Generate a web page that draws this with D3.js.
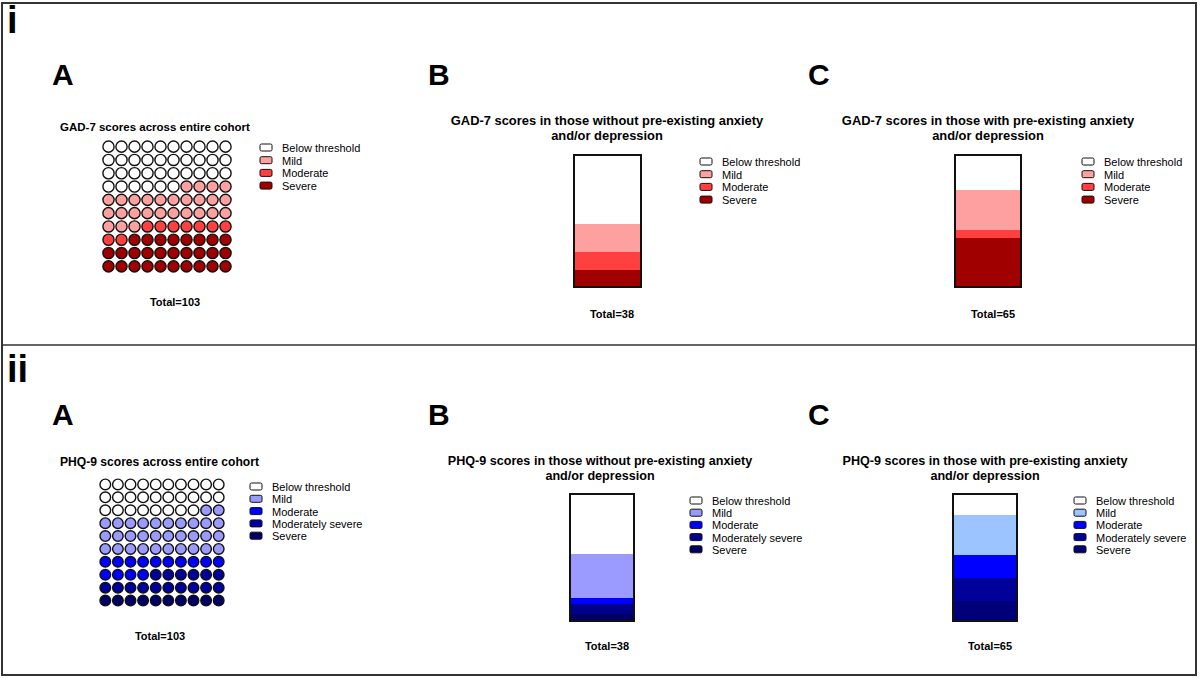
<!DOCTYPE html>
<html>
<head>
<meta charset="utf-8">
<script src="https://cdn.jsdelivr.net/npm/d3@7"></script>
<style>
  body { margin: 0; background: #fff; }
  text { font-family: "Liberation Sans", Arial, sans-serif; }
</style>
</head>
<body>
<div id="chart"></div>
<script>
// categories
var gadCats = ["Below threshold", "Mild", "Moderate", "Severe"];
var phqCats = ["Below threshold", "Mild", "Moderate", "Moderately severe", "Severe"];

// waffle = percent of whole cohort (100 dots), bars = counts
var gadWaffle = [36, 27, 9, 28];
var gadNoPre = [20, 8, 5, 5];
var gadPre = [17, 20, 4, 24];
var phqWaffle = [28, 32, 14, 16, 10];
var phqNoPre = [18, 13, 2, 3, 2];
var phqPre = [11, 20, 12, 12, 10];
var totals = [103, 38, 65];

var gadColors = ["#ffffff", "#ffa0a0", "#ff4040", "#a00000"];
var phqColorsA = ["#ffffff", "#9a9aff", "#0000ff", "#00009c", "#000066"];
var phqColorsB = ["#ffffff", "#9a9aff", "#0000ff", "#00008c", "#000060"];
var phqColorsC = ["#ffffff", "#9cc4ff", "#0000ff", "#00009a", "#000078"];

var width = 1200, height = 678;

var svg = d3.select("#chart")
    .append("svg")
    .attr("width", width)
    .attr("height", height);

// frame
svg.append("rect")
    .attr("x", 2).attr("y", 3)
    .attr("width", 1194).attr("height", 672)
    .attr("fill", "none")
    .attr("stroke", "#333")
    .attr("stroke-width", 2);
svg.append("line")
    .attr("x1", 2).attr("x2", 1196)
    .attr("y1", 345).attr("y2", 345)
    .attr("stroke", "#333")
    .attr("stroke-width", 1.5);

svg.append("text").attr("x", 7).attr("y", 33)
    .attr("font-size", 38).attr("font-weight", "bold").text("i");
svg.append("text").attr("x", 7).attr("y", 382)
    .attr("font-size", 38).attr("font-weight", "bold").text("ii");

function letter(x, y, t) {
    svg.append("text").attr("x", x).attr("y", y)
        .attr("font-size", 30).attr("font-weight", "bold").text(t);
}

function title(x, y, lines, anchor, size) {
    var t = svg.append("text")
        .attr("x", x).attr("y", y)
        .attr("font-size", size)
        .attr("font-weight", "bold")
        .attr("text-anchor", anchor);
    lines.forEach((l, i) => {
        t.append("tspan").attr("x", x).attr("dy", i ? 14.5 : 0).text(l);
    });
}

function totalLabel(x, y, n) {
    svg.append("text").attr("x", x).attr("y", y)
        .attr("font-size", 11)
        .attr("font-weight", "bold")
        .attr("text-anchor", "middle")
        .text("Total=" + n);
}

function legend(x, y, step, cats, colors) {
    var g = svg.append("g").attr("transform", `translate(${x},${y})`);
    var item = g.selectAll("g")
        .data(cats)
        .join("g")
        .attr("transform", (d, i) => `translate(0,${i * step})`);
    item.append("rect")
        .attr("x", 0).attr("y", -4)
        .attr("width", 12).attr("height", 7)
        .attr("rx", 1.5)
        .attr("fill", (d, i) => colors[i])
        .attr("stroke", "#111")
        .attr("stroke-width", 1);
    item.append("text")
        .attr("x", 22).attr("y", 4)
        .attr("font-size", 11)
        .text(d => d);
}

function waffle(x0, x1, y0, y1, r, counts, colors) {
    var cells = [];
    counts.forEach((c, k) => { for (var j = 0; j < c; j++) cells.push(k); });
    var xs = d3.scaleBand().domain(d3.range(10)).range([x0, x1]);
    var ys = d3.scaleBand().domain(d3.range(10)).range([y0, y1]);
    svg.append("g")
        .selectAll("circle")
        .data(cells)
        .join("circle")
        .attr("cx", (d, i) => xs(i % 10) + xs.bandwidth() / 2)
        .attr("cy", (d, i) => ys(Math.floor(i / 10)) + ys.bandwidth() / 2)
        .attr("r", r)
        .attr("fill", d => colors[d])
        .attr("stroke", "#111")
        .attr("stroke-width", 1.4);
}

function stackBar(x0, x1, y0, y1, counts, colors) {
    var total = d3.sum(counts);
    var y = d3.scaleLinear().domain([0, total]).range([y1, y0]);
    // stack from the bottom: last category at the bottom
    var segs = [];
    var acc = 0;
    for (var k = counts.length - 1; k >= 0; k--) {
        segs.push({ k: k, lo: acc, hi: acc + counts[k] });
        acc += counts[k];
    }
    var g = svg.append("g").attr("shape-rendering", "crispEdges");
    g.selectAll("rect")
        .data(segs)
        .join("rect")
        .attr("x", x0)
        .attr("width", x1 - x0)
        .attr("y", d => y(d.hi))
        .attr("height", d => y(d.lo) - y(d.hi))
        .attr("fill", d => colors[d.k]);
    g.append("rect")
        .attr("x", x0).attr("y", y0)
        .attr("width", x1 - x0).attr("height", y1 - y0)
        .attr("fill", "none")
        .attr("stroke", "#111")
        .attr("stroke-width", 1.6);
}

// ---- i: GAD-7
letter(52, 85, "A");
letter(428, 85, "B");
letter(808, 85, "C");
title(60, 131, ["GAD-7 scores across entire cohort"], "start", 11.5);
waffle(102, 232, 140, 273, 5.6, gadWaffle, gadColors);
legend(260, 148, 12.7, gadCats, gadColors);
totalLabel(175, 306, totals[0]);

title(607, 125, ["GAD-7 scores in those without pre-existing anxiety", "and/or depression"], "middle", 12.9);
stackBar(574, 641, 155, 287, gadNoPre, gadColors);
legend(700, 162, 12.7, gadCats, gadColors);
totalLabel(612, 318, totals[1]);

title(988, 125, ["GAD-7 scores in those with pre-existing anxiety", "and/or depression"], "middle", 12.9);
stackBar(955, 1021, 155, 287, gadPre, gadColors);
legend(1082, 162, 12.7, gadCats, gadColors);
totalLabel(993, 318, totals[2]);

// ---- ii: PHQ-9
letter(52, 425, "A");
letter(428, 425, "B");
letter(808, 425, "C");
title(60, 466, ["PHQ-9 scores across entire cohort"], "start", 12.1);
waffle(99, 225, 478, 607, 5.3, phqWaffle, phqColorsA);
legend(250, 487, 12.3, phqCats, phqColorsA);
totalLabel(160, 640, totals[0]);

title(600, 465, ["PHQ-9 scores in those without pre-existing anxiety", "and/or depression"], "middle", 12.6);
stackBar(570, 634, 494, 621, phqNoPre, phqColorsB);
legend(690, 501, 12.2, phqCats, phqColorsB);
totalLabel(607, 650, totals[1]);

title(985, 465, ["PHQ-9 scores in those with pre-existing anxiety", "and/or depression"], "middle", 12.6);
stackBar(953, 1017, 494, 621, phqPre, phqColorsC);
legend(1074, 501, 12.2, phqCats, phqColorsC);
totalLabel(990, 650, totals[2]);
</script>
</body>
</html>
